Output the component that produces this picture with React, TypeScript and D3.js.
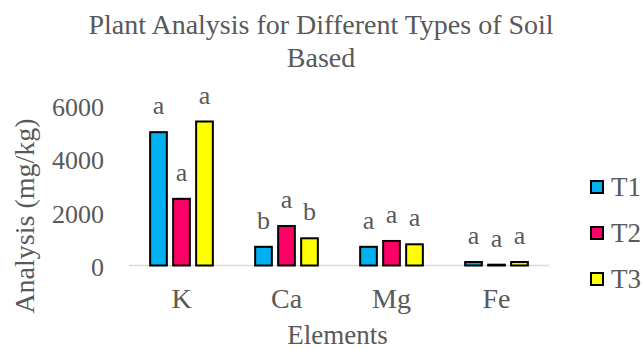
import React from "react";
import * as d3 from "d3";

const categories = ["K", "Ca", "Mg", "Fe"];
const seriesNames = ["T1", "T2", "T3"];
const t1 = [5000, 700, 700, 130];
const t2 = [2500, 1480, 920, 30];
const t3 = [5400, 1020, 795, 130];
const letters1 = ["a", "b", "a", "a"];
const letters2 = ["a", "a", "a", "a"];
const letters3 = ["a", "b", "a", "a"];
const yTicks = [0, 2000, 4000, 6000];
const colors = ["#00B0F0", "#FF0066", "#FFFF00"];

const W = 642, H = 349;
const FONT = '"Liberation Serif", "Times New Roman", serif';
const TEXT = "#595959";
const ts = { fontFamily: FONT };

export default function App() {
  const values = [t1, t2, t3];
  const letters = [letters1, letters2, letters3];
  const x = d3.scaleBand<string>().domain(categories).range([129, 549]).padding(0);
  const y = d3.scaleLinear().domain([0, 6000]).range([265.5, 105.5]);
  const inner = d3.scaleBand<string>().domain(seriesNames).range([-31.35, 31.35]).paddingInner(0.274);
  return (
    <svg width={W} height={H} style={{ position: "absolute", left: 0, top: 0, background: "#fff" }}>
      <text x={321} y={33.5} textAnchor="middle" fontSize={28} fill={TEXT} style={ts}>Plant Analysis for Different Types of Soil</text>
      <text x={321} y={66.5} textAnchor="middle" fontSize={28} fill={TEXT} style={ts}>Based</text>
      {yTicks.map((t) => (
        <text key={t} x={104} y={y(t) + 1.5} dy="0.35em" textAnchor="end" fontSize={26} fill={TEXT} style={ts}>{t}</text>
      ))}
      <line x1={129} x2={549} y1={y(0)} y2={y(0)} stroke="#D9D9D9" strokeWidth={1.5} />
      {categories.map((c, i) => (
        <g key={c} transform={`translate(${x(c)! + x.bandwidth() / 2},0)`}>
          {seriesNames.map((s, j) => {
            const v = values[j][i];
            const bx = inner(s)!;
            return (
              <g key={s}>
                <rect x={bx} y={y(v)} width={inner.bandwidth()} height={y(0) - y(v)} fill={colors[j]} stroke="#000" strokeWidth={2} />
                <text x={bx + inner.bandwidth() / 2} y={y(v) - 18} textAnchor="middle" fontSize={26} fill={TEXT} style={ts}>{letters[j][i]}</text>
              </g>
            );
          })}
          <text x={0} y={308} textAnchor="middle" fontSize={28} fill={TEXT} style={ts}>{c}</text>
        </g>
      ))}
      <text transform={`translate(34,216) rotate(-90)`} textAnchor="middle" fontSize={28} fill={TEXT} style={ts}>Analysis (mg/kg)</text>
      <text x={337.5} y={343.5} textAnchor="middle" fontSize={27} fill={TEXT} style={ts}>Elements</text>
      {seriesNames.map((s, j) => (
        <g key={s} transform={`translate(590,${187 + j * 46})`}>
          <rect x={1} y={-6} width={12} height={12} fill={colors[j]} stroke="#000" strokeWidth={2} />
          <text x={21} y={0} dy="0.34em" fontSize={27} fill={TEXT} style={ts}>{s}</text>
        </g>
      ))}
    </svg>
  );
}
